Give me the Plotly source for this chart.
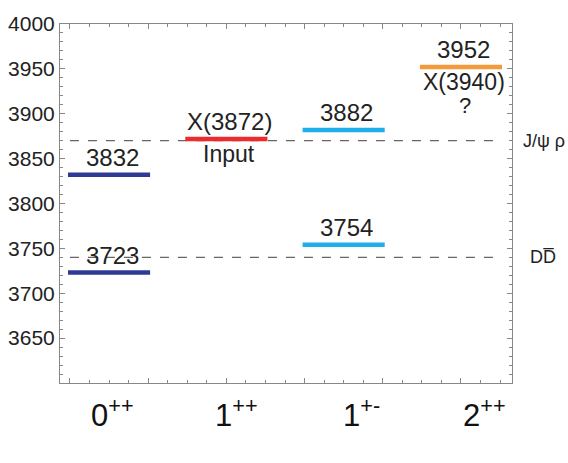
import plotly.graph_objects as go

# spectrum data
categories = ["0<sup>++</sup>", "1<sup>++</sup>", "1<sup>+-</sup>", "2<sup>++</sup>"]
level_cat = [0, 0, 1, 2, 2, 3]
level_mass = [3832, 3723, 3872, 3882, 3754, 3952]
level_color = ["#2e3a94", "#2e3a94", "#ec2b2e", "#1eaee8", "#1eaee8", "#f29a3c"]
level_above = ["3832", "3723", "X(3872)", "3882", "3754", "3952"]
level_below = ["", "", "Input", "", "", "X(3940)"]
level_note = ["", "", "", "", "", "?"]

thresholds = [3870, 3740]
threshold_labels = ["J/\u03c8 \u03c1", "DD\u0305"]
threshold_shift = [9, 16]

half_width = 0.35

fig = go.Figure()

# dashed threshold lines
for thr in thresholds:
    fig.add_trace(go.Scatter(
        x=[2 / 3, 13 / 3], y=[thr, thr], mode="lines",
        line=dict(color="#666666", width=1.3, dash="dash"),
        hoverinfo="skip", showlegend=False))

# levels
for i in range(len(level_mass)):
    xc = level_cat[i] + 1
    fig.add_trace(go.Scatter(
        x=[xc - half_width, xc + half_width], y=[level_mass[i], level_mass[i]],
        mode="lines", line=dict(color=level_color[i], width=4.5),
        hoverinfo="skip", showlegend=False))
    fig.add_annotation(x=xc, y=level_mass[i], text=level_above[i],
                       showarrow=False, yanchor="bottom", yshift=2, xshift=3,
                       font=dict(size=24, color="#222222"))
    if level_below[i]:
        fig.add_annotation(x=xc, y=level_mass[i], text=level_below[i],
                           showarrow=False, yanchor="top", yshift=0, xshift=3,
                           font=dict(size=23, color="#222222"))
    if level_note[i]:
        fig.add_annotation(x=xc, y=level_mass[i], text=level_note[i],
                           showarrow=False, yanchor="top", yshift=-24, xshift=4,
                           font=dict(size=22, color="#222222"))

# threshold names on the right
for thr, lab, sh in zip(thresholds, threshold_labels, threshold_shift):
    fig.add_annotation(x=1.0, xref="paper", xanchor="left", xshift=sh,
                       y=thr, text=lab, showarrow=False,
                       font=dict(size=18, color="#222222"))

# category labels under the axis
label_x = [1.03, 2.09, 3.15, 4.2]
for lx, cat in zip(label_x, categories):
    fig.add_annotation(x=lx, y=0, yref="paper", yanchor="top", yshift=-8,
                       text=cat, showarrow=False,
                       font=dict(size=31, color="#111111"))

axis_common = dict(
    showline=True, linecolor="#888888", linewidth=1, mirror="ticks",
    ticks="inside", tickcolor="#888888", ticklen=5,
    showgrid=False, zeroline=False, automargin=False,
)

fig.update_xaxes(range=[0.582, 4.435], tick0=0, dtick=2 / 3,
                 showticklabels=False,
                 minor=dict(ticks="inside", dtick=1 / 6, ticklen=3,
                            tickcolor="#888888"),
                 **axis_common)
fig.update_yaxes(range=[3600, 4000],
                 tickvals=[3650, 3700, 3750, 3800, 3850, 3900, 3950, 4000],
                 tickfont=dict(size=21, color="#222222"),
                 minor=dict(ticks="inside", dtick=10, ticklen=3,
                            tickcolor="#888888"),
                 **axis_common)

fig.update_layout(
    width=568, height=463,
    margin=dict(l=60, r=56, t=24, b=80),
    plot_bgcolor="white", paper_bgcolor="white",
    font=dict(family="Liberation Sans, Arial, sans-serif"),
)

# drop the default page margin so the figure sits at the window's corner
fig.write_html("out.html", config={"displayModeBar": False},
               post_script="document.body.style.margin='0';")
